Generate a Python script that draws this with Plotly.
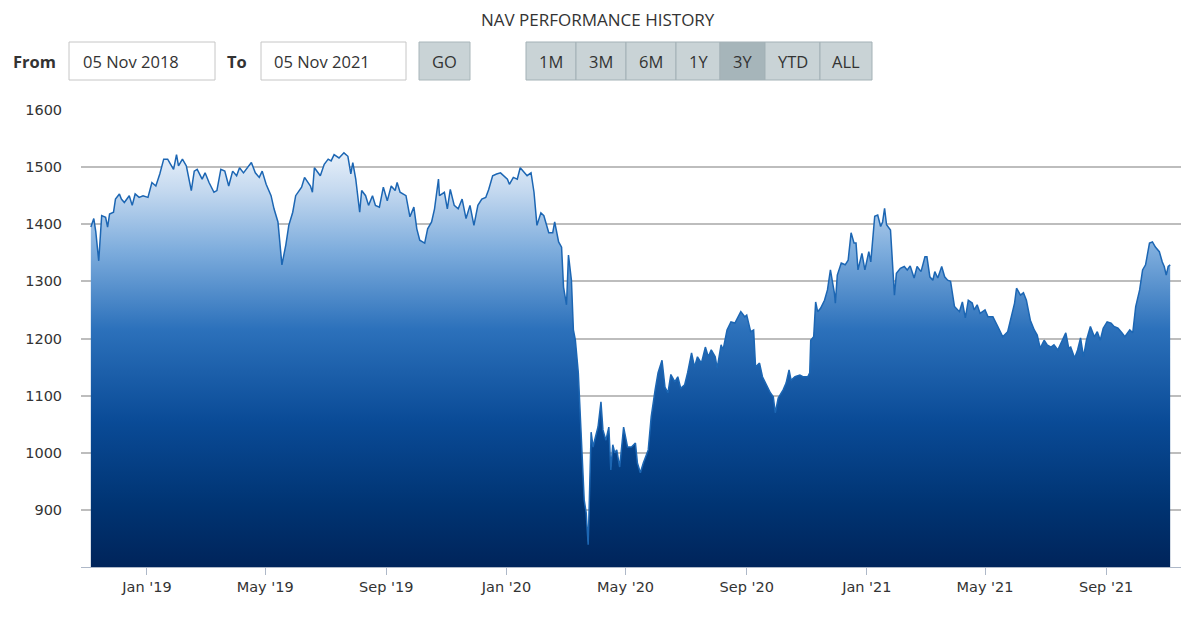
import pandas as pd
import plotly.graph_objects as go

# NAV readings (date, value)
dates = [
    "2018-11-05", "2018-11-08", "2018-11-10", "2018-11-13", "2018-11-16", "2018-11-20", "2018-11-22", "2018-11-24",
    "2018-11-28", "2018-11-30", "2018-12-04", "2018-12-06", "2018-12-09", "2018-12-14", "2018-12-17", "2018-12-20",
    "2018-12-24", "2018-12-28", "2019-01-02", "2019-01-06", "2019-01-10", "2019-01-14", "2019-01-18", "2019-01-22",
    "2019-01-25", "2019-01-28", "2019-01-31", "2019-02-02", "2019-02-06", "2019-02-10", "2019-02-15", "2019-02-18",
    "2019-02-21", "2019-02-26", "2019-03-01", "2019-03-05", "2019-03-10", "2019-03-13", "2019-03-17", "2019-03-21",
    "2019-03-25", "2019-03-29", "2019-04-02", "2019-04-05", "2019-04-09", "2019-04-13", "2019-04-17", "2019-04-21",
    "2019-04-25", "2019-04-28", "2019-05-02", "2019-05-07", "2019-05-10", "2019-05-14", "2019-05-18", "2019-05-22",
    "2019-05-25", "2019-05-29", "2019-06-01", "2019-06-07", "2019-06-10", "2019-06-16", "2019-06-18", "2019-06-20",
    "2019-06-26", "2019-06-30", "2019-07-04", "2019-07-07", "2019-07-10", "2019-07-15", "2019-07-20", "2019-07-24",
    "2019-07-27", "2019-07-29", "2019-08-01", "2019-08-05", "2019-08-07", "2019-08-11", "2019-08-14", "2019-08-18",
    "2019-08-21", "2019-08-25", "2019-08-29", "2019-09-02", "2019-09-06", "2019-09-10", "2019-09-12", "2019-09-15",
    "2019-09-21", "2019-09-25", "2019-09-29", "2019-10-02", "2019-10-05", "2019-10-10", "2019-10-13", "2019-10-17",
    "2019-10-20", "2019-10-24", "2019-10-25", "2019-10-30", "2019-11-02", "2019-11-05", "2019-11-09", "2019-11-13",
    "2019-11-17", "2019-11-21", "2019-11-25", "2019-11-29", "2019-12-03", "2019-12-07", "2019-12-11", "2019-12-14",
    "2019-12-18", "2019-12-22", "2019-12-26", "2020-01-02", "2020-01-04", "2020-01-08", "2020-01-12", "2020-01-15",
    "2020-01-19", "2020-01-22", "2020-01-26", "2020-01-29", "2020-02-01", "2020-02-05", "2020-02-08", "2020-02-10",
    "2020-02-13", "2020-02-17", "2020-02-19", "2020-02-23", "2020-02-26", "2020-02-28", "2020-03-02", "2020-03-04",
    "2020-03-07", "2020-03-09", "2020-03-11", "2020-03-14", "2020-03-17", "2020-03-20", "2020-03-22", "2020-03-24",
    "2020-03-27", "2020-03-29", "2020-03-31", "2020-04-03", "2020-04-06", "2020-04-08", "2020-04-11", "2020-04-14",
    "2020-04-16", "2020-04-18", "2020-04-20", "2020-04-22", "2020-04-25", "2020-04-29", "2020-05-03", "2020-05-07",
    "2020-05-11", "2020-05-13", "2020-05-16", "2020-05-19", "2020-05-24", "2020-05-27", "2020-05-31", "2020-06-03",
    "2020-06-07", "2020-06-10", "2020-06-13", "2020-06-16", "2020-06-20", "2020-06-23", "2020-06-26", "2020-06-30",
    "2020-07-03", "2020-07-07", "2020-07-10", "2020-07-13", "2020-07-17", "2020-07-21", "2020-07-24", "2020-07-27",
    "2020-07-31", "2020-08-02", "2020-08-06", "2020-08-08", "2020-08-12", "2020-08-16", "2020-08-20", "2020-08-23",
    "2020-08-26", "2020-08-30", "2020-09-01", "2020-09-05", "2020-09-08", "2020-09-10", "2020-09-14", "2020-09-17",
    "2020-09-20", "2020-09-25", "2020-09-28", "2020-09-30", "2020-10-03", "2020-10-08", "2020-10-11", "2020-10-14",
    "2020-10-16", "2020-10-20", "2020-10-25", "2020-10-28", "2020-11-02", "2020-11-04", "2020-11-05", "2020-11-08",
    "2020-11-10", "2020-11-12", "2020-11-15", "2020-11-19", "2020-11-22", "2020-11-25", "2020-11-29", "2020-11-30",
    "2020-12-02", "2020-12-06", "2020-12-10", "2020-12-13", "2020-12-16", "2020-12-19", "2020-12-21", "2020-12-23",
    "2020-12-27", "2020-12-30", "2021-01-03", "2021-01-05", "2021-01-09", "2021-01-12", "2021-01-15", "2021-01-17",
    "2021-01-19", "2021-01-21", "2021-01-25", "2021-01-29", "2021-01-31", "2021-02-04", "2021-02-08", "2021-02-11",
    "2021-02-14", "2021-02-18", "2021-02-21", "2021-02-25", "2021-03-01", "2021-03-03", "2021-03-06", "2021-03-09",
    "2021-03-11", "2021-03-14", "2021-03-18", "2021-03-21", "2021-03-24", "2021-03-27", "2021-03-31", "2021-04-05",
    "2021-04-08", "2021-04-11", "2021-04-14", "2021-04-18", "2021-04-20", "2021-04-23", "2021-04-26", "2021-05-01",
    "2021-05-04", "2021-05-09", "2021-05-14", "2021-05-19", "2021-05-24", "2021-05-27", "2021-05-31", "2021-06-02",
    "2021-06-06", "2021-06-09", "2021-06-12", "2021-06-16", "2021-06-20", "2021-06-23", "2021-06-26", "2021-06-30",
    "2021-07-03", "2021-07-07", "2021-07-10", "2021-07-14", "2021-07-17", "2021-07-22", "2021-07-25", "2021-07-27",
    "2021-07-31", "2021-08-03", "2021-08-06", "2021-08-09", "2021-08-12", "2021-08-16", "2021-08-20", "2021-08-23",
    "2021-08-26", "2021-08-29", "2021-09-02", "2021-09-06", "2021-09-09", "2021-09-13", "2021-09-17", "2021-09-20",
    "2021-09-25", "2021-09-28", "2021-10-01", "2021-10-05", "2021-10-08", "2021-10-11", "2021-10-15", "2021-10-18",
    "2021-10-21", "2021-10-25", "2021-10-28", "2021-10-30", "2021-11-01", "2021-11-03", "2021-11-05",
]
nav = [
    1395, 1410, 1387, 1336, 1415, 1412, 1395, 1418, 1421, 1444, 1453, 1444, 1438, 1450, 1433, 1453,
    1447, 1450, 1447, 1473, 1467, 1488, 1514, 1514, 1505, 1496, 1522, 1502, 1514, 1502, 1459, 1493,
    1496, 1479, 1490, 1473, 1456, 1459, 1496, 1493, 1467, 1493, 1485, 1499, 1490, 1499, 1508, 1490,
    1482, 1493, 1470, 1450, 1427, 1404, 1329, 1364, 1398, 1421, 1450, 1465, 1482, 1467, 1456, 1499,
    1485, 1505, 1514, 1511, 1522, 1516, 1525, 1519, 1488, 1508, 1479, 1421, 1459, 1450, 1433, 1450,
    1433, 1430, 1465, 1441, 1467, 1459, 1473, 1456, 1450, 1413, 1430, 1392, 1372, 1367, 1392, 1404,
    1427, 1479, 1450, 1456, 1427, 1461, 1433, 1427, 1444, 1410, 1433, 1398, 1433, 1444, 1447, 1461,
    1485, 1488, 1490, 1479, 1470, 1482, 1479, 1499, 1490, 1485, 1490, 1456, 1398, 1420, 1415, 1402,
    1385, 1385, 1404, 1369, 1360, 1290, 1259, 1346, 1302, 1215, 1197, 1140, 1035, 917, 895, 839,
    1036, 1010, 1025, 1045, 1089, 1040, 1022, 1045, 970, 1014, 1000, 1005, 975, 1045, 1010, 1010,
    1017, 982, 965, 982, 1005, 1063, 1110, 1140, 1162, 1115, 1105, 1137, 1124, 1133, 1113, 1119,
    1140, 1175, 1150, 1168, 1157, 1185, 1168, 1180, 1168, 1148, 1189, 1180, 1215, 1229, 1227, 1238,
    1247, 1238, 1241, 1212, 1215, 1150, 1157, 1133, 1122, 1105, 1098, 1070, 1096, 1110, 1122, 1145,
    1127, 1133, 1136, 1133, 1133, 1140, 1197, 1203, 1264, 1247, 1253, 1267, 1285, 1320, 1280, 1262,
    1311, 1332, 1329, 1337, 1385, 1367, 1367, 1320, 1349, 1320, 1352, 1334, 1414, 1416, 1396, 1404,
    1428, 1399, 1390, 1276, 1314, 1323, 1326, 1320, 1327, 1306, 1326, 1317, 1343, 1343, 1308, 1302,
    1317, 1306, 1326, 1308, 1302, 1300, 1256, 1247, 1264, 1236, 1267, 1262, 1250, 1259, 1244, 1250,
    1238, 1238, 1221, 1203, 1212, 1232, 1262, 1288, 1276, 1280, 1267, 1232, 1215, 1206, 1183, 1197,
    1189, 1185, 1189, 1180, 1192, 1210, 1183, 1185, 1166, 1180, 1201, 1168, 1197, 1221, 1203, 1212,
    1197, 1218, 1229, 1227, 1221, 1218, 1210, 1203, 1215, 1210, 1256, 1285, 1320, 1329, 1367, 1369,
    1360, 1352, 1334, 1326, 1311, 1326, 1329,
]

y_ticks = [800, 900, 1000, 1100, 1200, 1300, 1400, 1500, 1600]
range_buttons = ["1M", "3M", "6M", "1Y", "3Y", "YTD", "ALL"]
selected_button = "3Y"
date_from = "05 Nov 2018"
date_to = "05 Nov 2021"

df = pd.DataFrame({"date": pd.to_datetime(dates), "nav": nav})

fig = go.Figure()
fig.add_trace(go.Scatter(
    x=df["date"], y=df["nav"], mode="lines",
    line=dict(color="#1c66b3", width=1.5),
    fill="tozeroy",
    fillgradient=dict(
        type="vertical", start=800, stop=1530,
        colorscale=[
            [0.0, "#00245a"], [0.15, "#003473"], [0.35, "#0a4b97"],
            [0.57, "#2c71bb"], [0.76, "#7eaddd"], [0.9, "#c3d8ef"], [1.0, "#ebf2fa"],
        ],
    ),
    hoverinfo="x+y", showlegend=False,
))

# the page body has an 8px margin, so the figure sits at (8, 8)
OFF = 8
W, H = 1200 - OFF, 617 - OFF
# plot area in page pixels: x 81..1181, y 110..567
L, R, T, B = 81, 1181, 110, 567


def px(x):
    return (x - L) / (R - L)


def py(y):
    return (B - y) / (B - T)


def box(x0, x1, fill, line):
    fig.add_shape(type="rect", xref="paper", yref="paper",
                  x0=px(x0), x1=px(x1), y0=py(80), y1=py(42),
                  fillcolor=fill, line=dict(color=line, width=1), layer="above")


def label(x, y, text, bold=False, anchor="left", size=16.5):
    fig.add_annotation(xref="paper", yref="paper", x=px(x), y=py(y),
                       text=f"<b>{text}</b>" if bold else text, showarrow=False,
                       xanchor=anchor, yanchor="middle", borderpad=0,
                       font=dict(family="Open Sans", size=size, color="#333333"))


# chart title, kept inside the figure so it is not clipped at the top
label(598, 19.5, "NAV PERFORMANCE HISTORY", anchor="center", size=17)

label(12, 61, "From", bold=True)
box(69, 215, "#ffffff", "#c6c6c6")
label(82, 61, date_from)
label(226, 61, "To", bold=True)
box(261, 406, "#ffffff", "#c6c6c6")
label(273, 61, date_to)
box(419, 470, "#c9d3d6", "#a9b6ba")
label(444.5, 61, "GO", anchor="center")

edges = [526, 576, 626, 676, 720, 765, 820, 872]
for i, name in enumerate(range_buttons):
    fill = "#a6b5ba" if name == selected_button else "#c9d3d6"
    box(edges[i], edges[i + 1], fill, "#a3b1b6")
    label((edges[i] + edges[i + 1]) / 2, 61, name, anchor="center")

fig.update_layout(
    width=W, height=H,
    margin=dict(l=L - OFF, r=W - (R - OFF), t=T - OFF, b=H - (B - OFF)),
    paper_bgcolor="white", plot_bgcolor="white",
    xaxis=dict(
        type="date", range=["2018-10-26", "2021-11-16"],
        dtick="M4", tick0="2019-01-01", tickformat="%b '%y",
        showgrid=False, showline=True, linecolor="#aeb8c8", linewidth=1,
        ticks="outside", ticklen=7, tickcolor="#aeb8c8",
        tickfont=dict(family="DejaVu Sans", size=14.5, color="#333333"),
        zeroline=False,
    ),
    yaxis=dict(
        range=[800, 1600], tickvals=y_ticks, ticktext=[""] + [str(v) for v in y_ticks[1:]],
        showgrid=True, gridcolor="#bdbdbd", gridwidth=1.5,
        ticks="outside", ticklen=15, tickcolor="rgba(0,0,0,0)",
        tickfont=dict(family="DejaVu Sans", size=14.5, color="#333333"),
        zeroline=False, showline=False,
    ),
)

fig.write_html("out.html")
